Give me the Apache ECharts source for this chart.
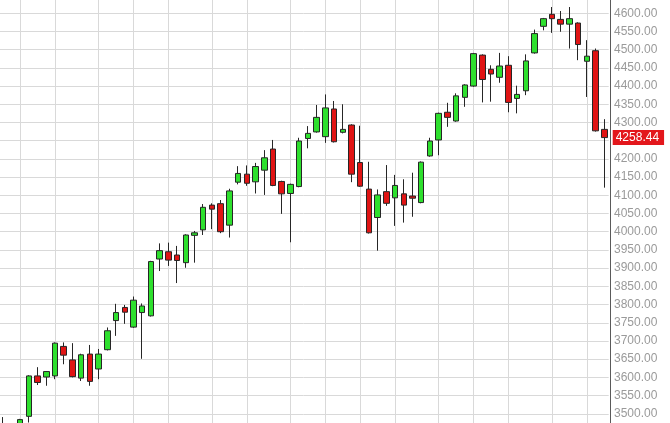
<!DOCTYPE html>
<html>
<head>
<meta charset="utf-8">
<script src="https://cdn.jsdelivr.net/npm/echarts@6/dist/echarts.min.js"></script>
<style>
  html, body { margin: 0; padding: 0; background: #fff; overflow: hidden; }
  body { width: 670px; height: 423px; position: relative; }
  /* the plot runs slightly past the window edges, so the box is shifted */
  #chart { position: absolute; left: -2px; top: -5px; width: 672px; height: 437px; }
</style>
</head>
<body>
<div id="chart"></div>
<script>
// daily candles
const opens  = [3470, 3465, 3458, 3493, 3604, 3601, 3604, 3685, 3648, 3598,
                3664, 3623, 3676, 3756, 3792, 3738, 3778, 3769, 3925, 3945,
                3936, 3915, 3990, 4005, 4073, 4077, 4018, 4136, 4158, 4137,
                4169, 4227, 4138, 4105, 4124, 4256, 4274, 4261, 4337, 4273,
                4293, 4190, 4117, 4039, 4110, 4093, 4104, 4098, 4080, 4208,
                4252, 4328, 4304, 4369, 4400, 4485, 4446, 4424, 4457, 4366,
                4387, 4491, 4564, 4597, 4583, 4570, 4573, 4468, 4497, 4281]
const closes = [3450, 3440, 3484, 3604, 3586, 3616, 3694, 3661, 3602, 3662,
                3589, 3664, 3728, 3778, 3779, 3812, 3796, 3918, 3948, 3922,
                3921, 3991, 3997, 4067, 4062, 4000, 4112, 4160, 4133, 4179,
                4203, 4127, 4104, 4130, 4249, 4270, 4314, 4340, 4247, 4281,
                4158, 4125, 3997, 4101, 4078, 4127, 4073, 4092, 4191, 4249,
                4325, 4314, 4373, 4403, 4489, 4418, 4433, 4455, 4355, 4377,
                4469, 4544, 4585, 4585, 4570, 4585, 4514, 4482, 4277, 4258.44]
const lows   = [3440, 3425, 3450, 3476, 3579, 3577, 3595, 3636, 3600, 3590,
                3577, 3595, 3674, 3714, 3747, 3736, 3651, 3767, 3892, 3906,
                3859, 3901, 3915, 3991, 4007, 3996, 3984, 4130, 4126, 4105,
                4101, 4125, 4049, 3971, 4122, 4229, 4272, 4244, 4245, 4270,
                4136, 4123, 3995, 3948, 4071, 4016, 4025, 4041, 4078, 4206,
                4210, 4288, 4302, 4343, 4398, 4355, 4357, 4409, 4328, 4325,
                4375, 4489, 4553, 4546, 4549, 4503, 4471, 4370, 4275, 4121]
const highs  = [3491, 3472, 3486, 3606, 3628, 3617, 3696, 3696, 3694, 3665,
                3689, 3678, 3737, 3802, 3799, 3822, 3803, 3920, 3968, 3970,
                3961, 3993, 4002, 4076, 4078, 4087, 4118, 4180, 4182, 4189,
                4224, 4252, 4140, 4132, 4258, 4290, 4348, 4377, 4359, 4350,
                4295, 4291, 4192, 4116, 4183, 4156, 4144, 4162, 4193, 4258,
                4327, 4354, 4380, 4405, 4491, 4487, 4457, 4491, 4482, 4401,
                4487, 4555, 4587, 4617, 4606, 4617, 4575, 4526, 4503, 4309]

// candle indexes that carry a vertical grid line
const gridDays = [2, 6, 11, 15, 19, 24, 28, 33, 37, 41, 45, 50, 54, 58, 63, 67]

const days = opens.map((_, i) => String(i + 1))
const ohlc = opens.map((o, i) => [o, closes[i], lows[i], highs[i]])
const lastClose = closes[closes.length - 1]

const yMin = 3450, yMax = 4650, yStep = 50

const chart = echarts.init(document.getElementById('chart'))
chart.setOption({
  animation: false,
  backgroundColor: '#fff',
  grid: [
    { left: 0.34, right: 61.3, top: 0, bottom: 0 },
    { left: 4.7, right: 65.7, top: 0, bottom: 0 }
  ],
  xAxis: [
    {
      type: 'category', data: days, gridIndex: 0, boundaryGap: true,
      axisLine: { show: false }, axisTick: { show: false },
      axisLabel: { show: false }, splitLine: { show: false }
    },
    {
      type: 'category', data: days, gridIndex: 1, boundaryGap: false,
      axisLine: { show: false }, axisTick: { show: false },
      axisLabel: { show: false },
      splitLine: {
        show: true,
        interval: (i) => gridDays.includes(i),
        lineStyle: { color: '#d9d9d9', width: 1 }
      }
    }
  ],
  yAxis: [
    {
      type: 'value', gridIndex: 0, position: 'right', offset: 1.3,
      min: yMin, max: yMax, interval: yStep,
      axisLine: { show: true, lineStyle: { color: '#5a5a5a', width: 1 } },
      axisTick: { show: false },
      axisLabel: {
        margin: 4, color: '#9a9a9a', fontSize: 12,
        fontFamily: 'Liberation Sans, Arial, sans-serif',
        showMinLabel: false, showMaxLabel: false,
        formatter: v => v.toFixed(2)
      },
      splitLine: { lineStyle: { color: '#d9d9d9', width: 1 } }
    },
    {
      type: 'value', gridIndex: 1, min: yMin, max: yMax,
      show: false, splitLine: { show: false }
    }
  ],
  series: [{
    type: 'candlestick',
    xAxisIndex: 0, yAxisIndex: 0,
    data: ohlc,
    barWidth: 6,
    itemStyle: {
      color: '#2ee02e', color0: '#e01414',
      borderColor: '#262626', borderColor0: '#262626', borderWidth: 1
    },
    markLine: {
      silent: true,
      symbol: 'none',
      lineStyle: { color: 'rgba(0,0,0,0)', width: 1 },
      data: [{ yAxis: lastClose }],
      label: {
        show: true,
        position: 'end', distance: 4,
        formatter: p => Number(p.value).toFixed(2),
        color: '#fff', fontSize: 12,
        fontFamily: 'Liberation Sans, Arial, sans-serif',
        backgroundColor: '#e3171c',
        padding: [2, 5, 1, 3]
      }
    }
  }]
})
</script>
</body>
</html>
